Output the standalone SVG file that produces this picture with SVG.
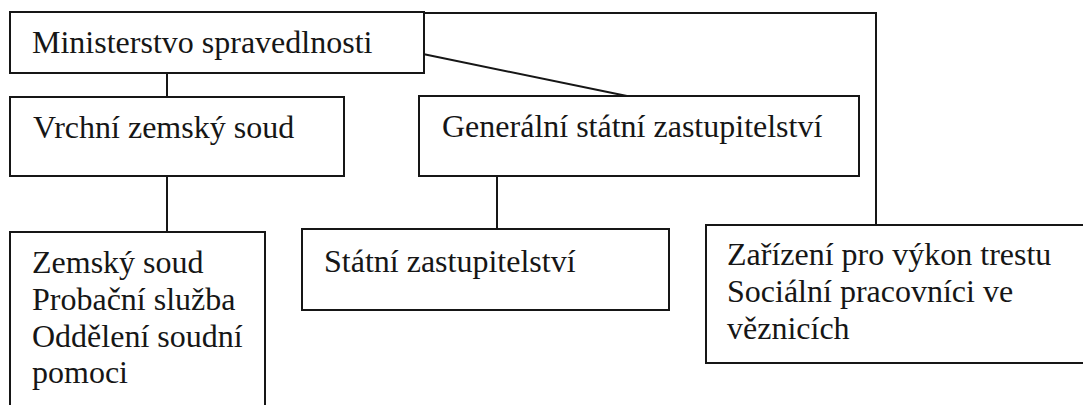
<svg xmlns="http://www.w3.org/2000/svg" width="1083" height="405" viewBox="0 0 1083 405">
<style>
.box{fill:#fff;stroke:#161616;stroke-width:2}
.ln{fill:none;stroke:#161616;stroke-width:2}
.t{font-size:32px;fill:#161616}
</style>
<rect width="1083" height="405" fill="#fff"/>
<g id="connectors">
<line class="ln" x1="167" y1="73" x2="167" y2="97"/>
<line class="ln" x1="423" y1="54" x2="627" y2="96"/>
<polyline class="ln" points="423,13 876,13 876,225"/>
<line class="ln" x1="167" y1="176" x2="167" y2="232"/>
<line class="ln" x1="497" y1="176" x2="497" y2="229"/>
</g>
<g font-family="Liberation Serif, Times New Roman, Times, serif">
<g id="ministerstvo">
<rect class="box" x="10" y="12" width="414" height="61"/>
<text class="t" x="32" y="53">Ministerstvo spravedlnosti</text>
</g>
<g id="vrchni">
<rect class="box" x="10" y="97" width="334" height="79"/>
<text class="t" x="33" y="138">Vrchní zemský soud</text>
</g>
<g id="generalni">
<rect class="box" x="419" y="96" width="440" height="80"/>
<text class="t" x="442" y="137">Generální státní zastupitelství</text>
</g>
<g id="zemsky">
<rect class="box" x="10" y="232" width="255" height="180"/>
<text class="t" x="32" y="273">Zemský soud</text>
<text class="t" x="32" y="310">Probační služba</text>
<text class="t" x="32" y="347">Oddělení soudní</text>
<text class="t" x="32" y="383">pomoci</text>
</g>
<g id="statni">
<rect class="box" x="302" y="229" width="367" height="81"/>
<text class="t" x="324" y="272">Státní zastupitelství</text>
</g>
<g id="zarizeni">
<rect class="box" x="706" y="225" width="390" height="138"/>
<text class="t" x="727" y="265">Zařízení pro výkon trestu</text>
<text class="t" x="727" y="302">Sociální pracovníci ve</text>
<text class="t" x="727" y="339">věznicích</text>
</g>
</g>
</svg>
